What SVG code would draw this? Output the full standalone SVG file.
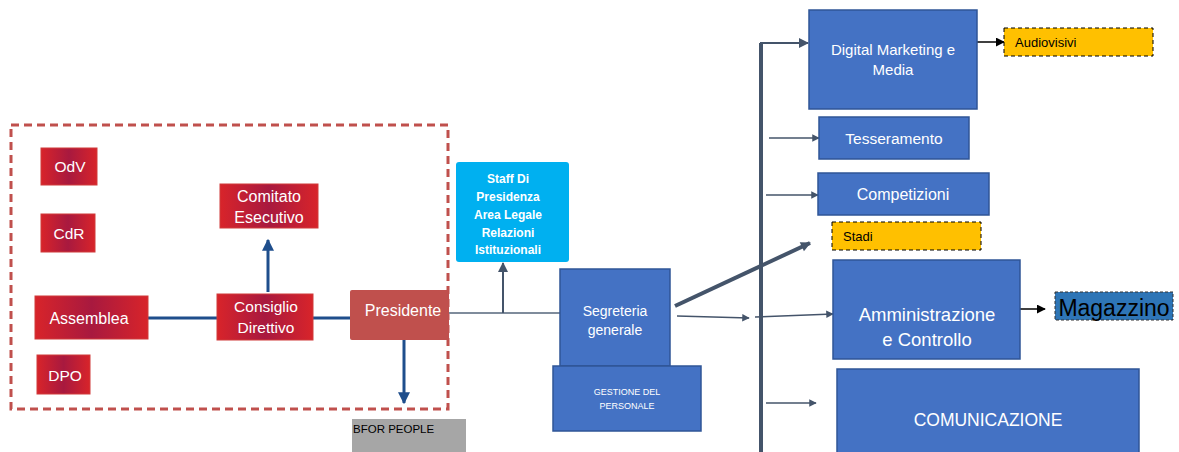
<svg xmlns="http://www.w3.org/2000/svg" width="1179" height="452" viewBox="0 0 1179 452">
<defs>
<linearGradient id="rg" x1="0" y1="0" x2="1" y2="0">
<stop offset="0" stop-color="#d8242a"/>
<stop offset="0.5" stop-color="#a8193f"/>
<stop offset="1" stop-color="#d8242a"/>
</linearGradient>
<marker id="ah" viewBox="0 0 10 10" refX="9" refY="5" markerWidth="5" markerHeight="5" orient="auto" markerUnits="strokeWidth"><path d="M0,0 L10,5 L0,10 z" fill="#44546a"/></marker>
<marker id="ahL" viewBox="0 0 10 10" refX="9" refY="5" markerWidth="11" markerHeight="10" orient="auto" markerUnits="userSpaceOnUse"><path d="M0,0 L10,5 L0,10 z" fill="#44546a"/></marker>
<marker id="ahb" viewBox="0 0 10 10" refX="9" refY="5" markerWidth="4" markerHeight="4" orient="auto" markerUnits="strokeWidth"><path d="M0,0 L10,5 L0,10 z" fill="#1f4e8c"/></marker>
<marker id="ahk" viewBox="0 0 10 10" refX="9" refY="5" markerWidth="6" markerHeight="6" orient="auto" markerUnits="strokeWidth"><path d="M0,0 L10,5 L0,10 z" fill="#000"/></marker>
</defs>
<style>
text{font-family:"Liberation Sans",Arial,sans-serif;}
.red{fill:url(#rg);stroke:#d03a3a;stroke-width:1}
.rt{fill:#fff;font-size:15.5px;text-anchor:middle}
.blue{fill:#4472c4;stroke:#2f5597;stroke-width:1.5}
.bt{fill:#fff;text-anchor:middle}
.yel{fill:#ffc000;stroke:#000;stroke-width:1;stroke-dasharray:4,3}
.yt{fill:#000;font-size:13px}
.c{fill:none;stroke:#44546a;stroke-width:2}
.cb{fill:none;stroke:#1f4e8c;stroke-width:3}
.ck{fill:none;stroke:#000;stroke-width:1.5}
.st{fill:#fff;text-anchor:middle;font-size:12px;font-weight:bold}
</style>
<rect x="0" y="0" width="1179" height="452" fill="#fff"/>

<g id="container">
<rect x="11" y="125" width="437" height="284" fill="none" stroke="#c0504d" stroke-width="3" stroke-dasharray="8,5"/>
</g>

<g id="connectors">
<line class="cb" x1="148" y1="318" x2="217" y2="318"/>
<line class="cb" x1="313" y1="318" x2="358" y2="318"/>
<line class="cb" x1="268" y1="292" x2="268" y2="240" marker-end="url(#ahb)"/>
<line class="cb" x1="404" y1="340" x2="404" y2="403" marker-end="url(#ahb)"/>
<line x1="449" y1="313" x2="560" y2="313" stroke="#7f8c9c" stroke-width="2"/>
<line class="c" x1="503" y1="313" x2="503" y2="263" marker-end="url(#ah)"/>
<line x1="761" y1="452" x2="761" y2="43" stroke="#44546a" stroke-width="4"/>
<line class="c" x1="760" y1="43" x2="808" y2="43" marker-end="url(#ah)"/>
<line x1="675" y1="306" x2="810" y2="243" stroke="#44546a" stroke-width="4" marker-end="url(#ahL)"/>
<line x1="677" y1="316" x2="749" y2="318" stroke="#44546a" stroke-width="1.5" marker-end="url(#ah)"/>
<line x1="755" y1="317" x2="833" y2="314" stroke="#44546a" stroke-width="1.5" marker-end="url(#ah)"/>
<line x1="769" y1="138" x2="819" y2="138" stroke="#44546a" stroke-width="1.5" marker-end="url(#ah)"/>
<line x1="766" y1="195" x2="818" y2="195" stroke="#44546a" stroke-width="1.5" marker-end="url(#ah)"/>
<line x1="766" y1="403" x2="816" y2="403" stroke="#44546a" stroke-width="1.5" marker-end="url(#ah)"/>
<line class="ck" x1="977" y1="42" x2="1004" y2="42" marker-end="url(#ahk)"/>
<line class="ck" x1="1020" y1="309" x2="1045" y2="309" marker-end="url(#ahk)"/>
</g>

<g id="odv"><rect class="red" x="41" y="148" width="56" height="37"/><text class="rt" x="70" y="172">OdV</text></g>
<g id="cdr"><rect class="red" x="41" y="214" width="54" height="38"/><text class="rt" x="69" y="239">CdR</text></g>
<g id="comitato"><rect class="red" x="220" y="184" width="98" height="44"/><text class="rt" x="269" y="202" style="font-size:16px">Comitato</text><text class="rt" x="269" y="223" style="font-size:16px">Esecutivo</text></g>
<g id="assemblea"><rect class="red" x="35" y="296" width="113" height="43"/><text class="rt" x="89" y="324" style="font-size:16px">Assemblea</text></g>
<g id="consiglio"><rect class="red" x="217" y="294" width="96" height="46"/><text class="rt" x="266" y="312">Consiglio</text><text class="rt" x="266" y="333">Direttivo</text></g>
<g id="presidente"><rect x="350" y="290" width="99" height="50" rx="2" fill="#c0504d"/><text class="rt" x="403" y="316" style="font-size:16px">Presidente</text></g>
<g id="dpo"><rect class="red" x="37" y="355" width="53" height="39"/><text class="rt" x="65" y="381">DPO</text></g>
<g id="bfor"><rect x="352" y="419" width="114" height="40" fill="#a6a6a6"/><text x="353" y="433" style="font-size:11.5px;fill:#000">BFOR PEOPLE</text></g>

<g id="staff"><rect x="456" y="162" width="113" height="100" rx="3" fill="#00b0f0"/>
<text class="st" x="508" y="183">Staff Di</text>
<text class="st" x="508" y="201">Presidenza</text>
<text class="st" x="508" y="219">Area Legale</text>
<text class="st" x="508" y="237">Relazioni</text>
<text class="st" x="508" y="254">Istituzionali</text></g>

<g id="segreteria"><rect class="blue" x="560" y="269" width="110" height="97"/><text class="bt" style="font-size:14px" x="615" y="316">Segreteria</text><text class="bt" style="font-size:14px" x="615" y="335">generale</text></g>
<g id="gestione"><rect class="blue" x="553" y="366" width="148" height="65"/><text class="bt" style="font-size:9px" x="627" y="395">GESTIONE DEL</text><text class="bt" style="font-size:9px" x="627" y="409">PERSONALE</text></g>

<g id="digital"><rect class="blue" x="809" y="10" width="168" height="99"/><text class="bt" style="font-size:15px" x="893" y="55">Digital Marketing e</text><text class="bt" style="font-size:15px" x="893" y="75">Media</text></g>
<g id="audiovisivi"><rect class="yel" x="1004" y="28" width="149" height="28"/><text class="yt" x="1015" y="47">Audiovisivi</text></g>
<g id="tesseramento"><rect class="blue" x="819" y="117" width="150" height="42"/><text class="bt" style="font-size:15.5px" x="894" y="144">Tesseramento</text></g>
<g id="competizioni"><rect class="blue" x="818" y="173" width="171" height="42"/><text class="bt" style="font-size:16px" x="903" y="200">Competizioni</text></g>
<g id="stadi"><rect class="yel" x="832" y="222" width="149" height="28"/><text class="yt" x="843" y="241">Stadi</text></g>
<g id="amministrazione"><rect class="blue" x="833" y="260" width="187" height="99"/><text class="bt" style="font-size:18.5px" x="927" y="321">Amministrazione</text><text class="bt" style="font-size:18.5px" x="927" y="346">e Controllo</text></g>
<g id="magazzino"><rect x="1055" y="292" width="118" height="28" fill="#2e75b6" stroke="#333" stroke-width="1" stroke-dasharray="3,2"/><text x="1114" y="316" style="font-size:23px;fill:#000;text-anchor:middle">Magazzino</text></g>
<g id="comunicazione"><rect class="blue" x="837" y="369" width="302" height="90"/><text class="bt" style="font-size:17.5px" x="988" y="426">COMUNICAZIONE</text></g>
</svg>
